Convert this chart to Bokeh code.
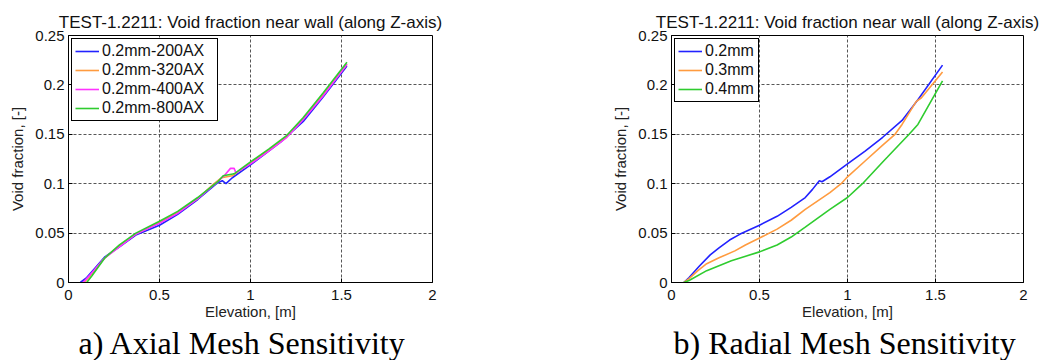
from bokeh.plotting import figure
from bokeh.layouts import row
from bokeh.models import (Range1d, FixedTicker, CustomJSTickFormatter, Legend, LegendItem, Title)
from bokeh.embed import file_html
from bokeh.resources import INLINE

TITLE = "TEST-1.2211: Void fraction near wall (along Z-axis)"
XLABEL = "Elevation, [m]"
YLABEL = "Void fraction, [-]"
X_TICKS = [0, 0.5, 1, 1.5, 2]
Y_TICKS = [0, 0.05, 0.1, 0.15, 0.2, 0.25]

# ---- a) Axial mesh sensitivity ----
ax_names = ["0.2mm-200AX", "0.2mm-320AX", "0.2mm-400AX", "0.2mm-800AX"]
ax200_x = [0.065, 0.1, 0.14, 0.2, 0.28, 0.37, 0.5, 0.6, 0.71, 0.82, 0.845, 0.865, 0.9, 1.0, 1.1, 1.165, 1.29, 1.4, 1.53]
ax200_y = [0.0, 0.005, 0.0135, 0.026, 0.036, 0.048, 0.058, 0.069, 0.084, 0.101, 0.103, 0.1, 0.106, 0.119, 0.133, 0.142, 0.163, 0.188, 0.219]
ax320_x = [0.085, 0.12, 0.2, 0.28, 0.37, 0.5, 0.6, 0.71, 0.8, 0.84, 0.9, 1.0, 1.1, 1.2, 1.29, 1.4, 1.53]
ax320_y = [0.0, 0.007, 0.025, 0.037, 0.049, 0.061, 0.071, 0.085, 0.1, 0.106, 0.108, 0.121, 0.134, 0.148, 0.166, 0.19, 0.221]
ax400_x = [0.08, 0.12, 0.2, 0.28, 0.37, 0.5, 0.6, 0.71, 0.82, 0.86, 0.89, 0.91, 0.92, 1.0, 1.1, 1.2, 1.29, 1.4, 1.53]
ax400_y = [0.0, 0.008, 0.025, 0.036, 0.049, 0.06, 0.07, 0.085, 0.102, 0.109, 0.1155, 0.1155, 0.111, 0.12, 0.133, 0.147, 0.165, 0.189, 0.221]
ax800_x = [0.1, 0.13, 0.2, 0.28, 0.37, 0.5, 0.6, 0.71, 0.82, 0.85, 0.88, 0.91, 1.0, 1.1, 1.2, 1.29, 1.4, 1.53]
ax800_y = [0.0, 0.007, 0.025, 0.038, 0.05, 0.062, 0.072, 0.086, 0.102, 0.108, 0.109, 0.11, 0.122, 0.135, 0.149, 0.167, 0.192, 0.223]
ax_colors = ["#2222ff", "#ff9b3f", "#ff33ff", "#2fcc2f"]

# ---- b) Radial mesh sensitivity ----
rad_names = ["0.2mm", "0.3mm", "0.4mm"]
r02_x = [0.07, 0.1, 0.16, 0.22, 0.27, 0.33, 0.39, 0.5, 0.6, 0.68, 0.76, 0.8, 0.84, 0.855, 0.9, 1.0, 1.1, 1.2, 1.31, 1.4, 1.54]
r02_y = [0.0, 0.005, 0.017, 0.028, 0.035, 0.043, 0.049, 0.058, 0.067, 0.076, 0.086, 0.094, 0.103, 0.102, 0.107, 0.12, 0.133, 0.147, 0.164, 0.185, 0.22]
r03_x = [0.07, 0.1, 0.15, 0.2, 0.27, 0.36, 0.42, 0.5, 0.6, 0.68, 0.76, 0.9, 0.964, 1.0, 1.1, 1.2, 1.27, 1.31, 1.39, 1.42, 1.54]
r03_y = [0.0, 0.004, 0.012, 0.019, 0.025, 0.032, 0.038, 0.045, 0.054, 0.063, 0.074, 0.091, 0.1, 0.107, 0.123, 0.139, 0.15, 0.16, 0.183, 0.187, 0.213]
r04_x = [0.07, 0.1, 0.2, 0.34, 0.5, 0.6, 0.68, 0.76, 0.9, 1.0, 1.085, 1.2, 1.227, 1.35, 1.4, 1.54]
r04_y = [0.0, 0.002, 0.012, 0.022, 0.031, 0.038, 0.046, 0.056, 0.074, 0.086, 0.1, 0.122, 0.127, 0.15, 0.16, 0.204]
rad_colors = ["#2222ff", "#ff9b3f", "#2fcc2f"]

CAPTIONS = ["a) Axial Mesh Sensitivity", "b) Radial Mesh Sensitivity"]

SANS = "Liberation Sans"
HEIGHT = 360


def make_fig(width, border_left, border_right, series, names, colors, caption, cap_offset, label_width):
    p = figure(width=width, height=HEIGHT, output_backend="svg", toolbar_location=None,
               x_range=Range1d(0, 2), y_range=Range1d(0, 0.25),
               min_border_left=border_left, min_border_right=border_right,
               min_border_top=35, min_border_bottom=HEIGHT - 284, title=TITLE)
    p.title.text_font = SANS
    p.title.text_font_size = "17px"
    p.title.text_font_style = "normal"
    p.title.align = "center"
    p.title.text_color = "#111111"
    p.title.standoff = 7
    p.outline_line_color = "black"
    p.outline_line_width = 1
    p.outline_line_alpha = 1
    p.background_fill_color = "white"
    p.border_fill_color = "white"

    p.xaxis.ticker = FixedTicker(ticks=X_TICKS)
    p.yaxis.ticker = FixedTicker(ticks=Y_TICKS)
    fmt = "return String(tick);"
    p.xaxis.formatter = CustomJSTickFormatter(code=fmt)
    p.yaxis.formatter = CustomJSTickFormatter(code=fmt)
    p.xaxis.axis_label = XLABEL
    p.yaxis.axis_label = YLABEL
    for ax in (p.xaxis[0], p.yaxis[0]):
        ax.axis_line_color = "black"
        ax.major_tick_in = 4
        ax.major_tick_out = 0
        ax.minor_tick_line_color = None
        ax.major_tick_line_color = "black"
        ax.major_label_text_font = SANS
        ax.major_label_text_font_size = "15px"
        ax.major_label_text_color = "#111111"
        ax.axis_label_text_font = SANS
        ax.axis_label_text_font_size = "15px"
        ax.axis_label_text_font_style = "normal"
        ax.axis_label_text_color = "#222222"
        ax.major_label_standoff = 4
        ax.axis_label_standoff = 2
    p.xaxis.major_label_standoff = 7
    p.xaxis.axis_label_standoff = 0
    p.yaxis.axis_label_standoff = 6

    p.grid.grid_line_color = "#444444"
    p.grid.grid_line_dash = "3 2"
    p.grid.grid_line_width = 1
    p.grid.grid_line_alpha = 0.9

    items = []
    for (xs, ys), name, col in zip(series, names, colors):
        r = p.line(xs, ys, line_color=col, line_width=1.6)
        items.append(LegendItem(label=name, renderers=[r]))
    leg = Legend(items=items, location="top_left", margin=3, padding=3, spacing=1,
                 glyph_width=24, glyph_height=18, label_height=18, label_width=label_width,
                 label_standoff=3, label_text_font=SANS, label_text_font_size="16px",
                 label_text_color="#111111", border_line_color="black", border_line_width=1,
                 border_line_alpha=1, background_fill_alpha=1)
    p.add_layout(leg)

    cap = Title(text=caption, align="left", offset=cap_offset, standoff=0,
                text_font="Liberation Serif", text_font_size="32px",
                text_font_style="normal", text_color="black")
    p.add_layout(cap, "below")
    return p


p1 = make_fig(488, 68, 56,
              [(ax200_x, ax200_y), (ax320_x, ax320_y), (ax400_x, ax400_y), (ax800_x, ax800_y)],
              ax_names, ax_colors, CAPTIONS[0], 10, 112)
p2 = make_fig(562, 183, 27,
              [(r02_x, r02_y), (r03_x, r03_y), (r04_x, r04_y)],
              rad_names, rad_colors, CAPTIONS[1], 2, 50)

layout = row(p1, p2)
open("out.html", "w").write(file_html(layout, INLINE))
